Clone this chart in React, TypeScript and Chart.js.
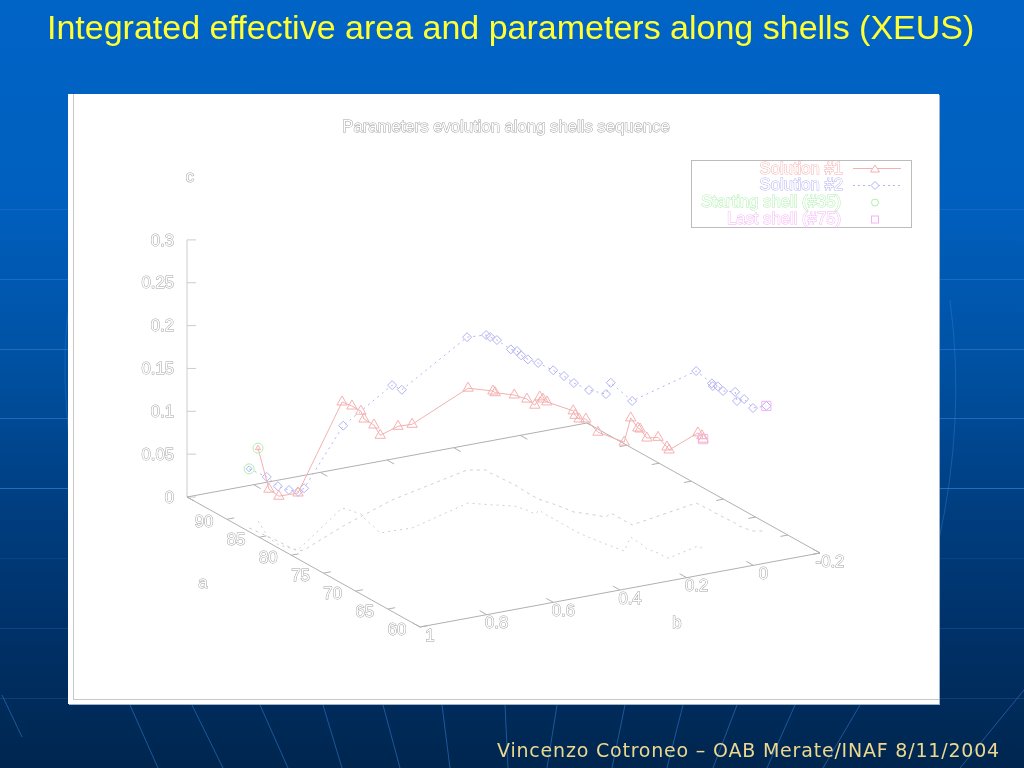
import React, { useEffect, useRef } from 'react';
import Chart from 'chart.js/auto';

// shell sequence: a, b, c for each solution
const sol1A = [88.43, 84.45, 82.6, 80.82, 87.9, 86.89, 85.91, 84.96, 82.69, 81.2, 81.13, 81.01, 84.07, 82.69, 82.61, 81.66, 80.32, 79.18, 79.82, 79.08, 78.51, 74.36, 74.07, 73.51, 72.61, 71.09, 68.0, 70.66, 69.34, 69.05, 67.53, 66.26, 64.87, 64.8, 66.18, 65.61, 65.57];
const sol1B = [0.937, 0.981, 0.987, 0.964, 0.695, 0.685, 0.677, 0.686, 0.7, 0.71, 0.658, 0.618, 0.391, 0.343, 0.338, 0.299, 0.287, 0.285, 0.258, 0.263, 0.262, 0.263, 0.263, 0.262, 0.259, 0.252, 0.233, 0.162, 0.166, 0.165, 0.174, 0.165, 0.165, 0.16, 0.047, 0.046, 0.043];
const sol1C = [0.085, 0.057, 0.057, 0.0665, 0.1237, 0.1225, 0.12, 0.1155, 0.119, 0.114, 0.121, 0.121, 0.134, 0.133, 0.131, 0.1295, 0.1295, 0.127, 0.132, 0.133, 0.132, 0.139, 0.135, 0.133, 0.1365, 0.127, 0.127, 0.139, 0.133, 0.133, 0.1295, 0.135, 0.1295, 0.126, 0.132, 0.131, 0.127];

const sol2A = [87.32, 84.95, 83.47, 81.8, 80.61, 80.59, 84.1, 87.64, 88.09, 91.01, 90.28, 89.49, 88.59, 86.59, 85.73, 84.95, 83.84, 82.2, 80.57, 79.31, 78.09, 77.09, 75.8, 76.45, 73.13, 75.25, 72.96, 72.71, 72.1, 71.28, 69.56, 69.06, 68.16, 67.19, 66.68];
const sol2B = [0.985, 0.978, 0.973, 0.972, 0.968, 0.95, 0.765, 0.55, 0.512, 0.26, 0.217, 0.22, 0.217, 0.214, 0.212, 0.215, 0.216, 0.217, 0.203, 0.195, 0.189, 0.163, 0.137, 0.11, 0.11, -0.123, -0.126, -0.124, -0.127, -0.127, -0.13, -0.126, -0.13, -0.138, -0.168];
const sol2C = [0.069, 0.069, 0.064, 0.0665, 0.069, 0.072, 0.117, 0.134, 0.124, 0.155, 0.1575, 0.1587, 0.1587, 0.156, 0.1575, 0.156, 0.156, 0.1587, 0.156, 0.154, 0.1505, 0.1447, 0.1435, 0.152, 0.1447, 0.154, 0.149, 0.147, 0.149, 0.147, 0.153, 0.1447, 0.1505, 0.1435, 0.146];

const aTicks = [90, 85, 80, 75, 70, 65, 60];
const bTicks = [1, 0.8, 0.6, 0.4, 0.2, 0, -0.2];
const cTicks = [0, 0.05, 0.1, 0.15, 0.2, 0.25, 0.3];
const A_MIN = 60;
const A_MAX = 96.2;
const B_MIN = -0.2;
const B_MAX = 1;

const legendLabels = ['Solution #1', 'Solution #2', 'Starting shell (#35)', 'Last shell (#75)'];
const RED = '#f5b0b0';
const BLUE = '#b2b2f4';
const GREEN = '#aeeeae';
const MAGENTA = '#f4b2f4';
const AXIS = '#b0b0b0';
const LABEL = '#a2a2a2';

// gnuplot style view: page pixels for a point of the a/b/c box
const project = (a: number, b: number, c: number) => {
  const u = (a - A_MIN) / (A_MAX - A_MIN);
  const v = (B_MAX - b) / (B_MAX - B_MIN);
  return { x: 420 - 233 * u + 400 * v, y: 627 - 130 * u - 74 * v - 857 * c };
};

const curve = (a: number[], b: number[], c: number[] | null) =>
  a.map((v, i) => project(v, b[i], c ? c[i] : 0));

const gap = { x: NaN, y: NaN };

const boxPoints = () => {
  const pts: { x: number; y: number }[] = [
    project(A_MAX, B_MAX, 0),
    project(A_MIN, B_MAX, 0),
    project(A_MIN, B_MIN, 0),
    project(A_MAX, B_MIN, 0),
    project(A_MAX, B_MAX, 0),
    gap,
  ];
  const bLen = 0.022;
  const aLen = 1.1;
  aTicks.forEach((a) => {
    pts.push(project(a, B_MAX, 0), project(a, B_MAX - bLen, 0), gap);
    pts.push(project(a, B_MIN, 0), project(a, B_MIN + bLen, 0), gap);
  });
  bTicks.forEach((b) => {
    pts.push(project(A_MIN, b, 0), project(A_MIN + aLen, b, 0), gap);
    pts.push(project(A_MAX, b, 0), project(A_MAX - aLen, b, 0), gap);
  });
  return pts;
};

const zAxisPoints = () => {
  const base = project(A_MAX, B_MAX, 0);
  const pts: { x: number; y: number }[] = [base, project(A_MAX, B_MAX, 0.3), gap];
  cTicks.forEach((c) => {
    const p = project(A_MAX, B_MAX, c);
    pts.push(p, { x: p.x + 9, y: p.y }, gap);
  });
  return pts;
};

const hollowText = (ctx: CanvasRenderingContext2D, text: string, x: number, y: number, color: string) => {
  ctx.lineWidth = 1;
  ctx.strokeStyle = color;
  ctx.fillStyle = '#ffffff';
  ctx.strokeText(text, x, y + 1);
  ctx.fillText(text, x, y + 1);
};

const plotText = {
  id: 'plotText',
  afterDatasetsDraw(chart: Chart) {
    const ctx = chart.ctx;
    ctx.save();
    ctx.font = '16.7px "Liberation Sans"';
    ctx.textBaseline = 'middle';
    ctx.textAlign = 'center';
    hollowText(ctx, 'Parameters evolution along shells sequence', 506, 126, LABEL);
    hollowText(ctx, 'c', 190, 176, LABEL);
    hollowText(ctx, 'a', 203, 582, LABEL);
    hollowText(ctx, 'b', 677, 622, LABEL);
    aTicks.forEach((a) => {
      const p = project(a, B_MAX, 0);
      hollowText(ctx, String(a), p.x - 23, p.y + 2, LABEL);
    });
    bTicks.forEach((b) => {
      const p = project(A_MIN, b, 0);
      hollowText(ctx, String(b), p.x + 10, p.y + 8, LABEL);
    });
    ctx.textAlign = 'right';
    cTicks.forEach((c) => {
      const p = project(A_MAX, B_MAX, c);
      hollowText(ctx, String(c), p.x - 13, p.y, LABEL);
    });

    // key box
    ctx.lineWidth = 1;
    ctx.strokeStyle = '#bcbcbc';
    ctx.strokeRect(691.5, 160.5, 220, 67);
    const colors = [RED, BLUE, GREEN, MAGENTA];
    legendLabels.forEach((label, i) => {
      hollowText(ctx, label, i < 2 ? 843 : 841, 168 + i * 16.8, colors[i]);
    });
    const cx = 875;
    ctx.lineWidth = 1;
    ctx.strokeStyle = RED;
    ctx.beginPath();
    ctx.moveTo(853, 168.5);
    ctx.lineTo(901, 168.5);
    ctx.stroke();
    ctx.beginPath();
    ctx.moveTo(cx - 4.5, 172);
    ctx.lineTo(cx + 4.5, 172);
    ctx.lineTo(cx, 165);
    ctx.closePath();
    ctx.fillStyle = '#fff';
    ctx.fill();
    ctx.stroke();
    ctx.strokeStyle = BLUE;
    ctx.setLineDash([2, 3]);
    ctx.beginPath();
    ctx.moveTo(853, 185.5);
    ctx.lineTo(901, 185.5);
    ctx.stroke();
    ctx.setLineDash([]);
    ctx.beginPath();
    ctx.moveTo(cx - 4, 185.5);
    ctx.lineTo(cx, 181.5);
    ctx.lineTo(cx + 4, 185.5);
    ctx.lineTo(cx, 189.5);
    ctx.closePath();
    ctx.fill();
    ctx.stroke();
    ctx.strokeStyle = GREEN;
    ctx.beginPath();
    ctx.arc(cx, 202.5, 3.5, 0, Math.PI * 2);
    ctx.stroke();
    ctx.strokeStyle = MAGENTA;
    ctx.strokeRect(cx - 3.5, 216, 7, 7);
    ctx.restore();
  },
};

const bgLines = [209, 279, 349, 418, 488, 558, 628, 698];
const bgAlpha = [0.25, 0.4, 0.45, 0.5, 0.6, 0.15, 0.2, 0.2];
const streaks = [
  [130, 705, 158, 768], [192, 705, 223, 768], [260, 705, 288, 768], [323, 705, 342, 768], [383, 705, 400, 768], [442, 705, 450, 768],
  [505, 705, 508, 768], [557, 705, 547, 768], [625, 705, 612, 768], [683, 705, 667, 768], [737, 705, 713, 768], [795, 705, 767, 768], [860, 705, 823, 768],
  [2, 695, 22, 737], [1024, 690, 960, 768],
];

const App = () => {
  const chartRef = useRef<HTMLCanvasElement>(null);
  const chartInstance = useRef<Chart | null>(null);

  useEffect(() => {
    document.body.style.margin = '0';
    if (!chartRef.current) return;
    const n1 = sol1A.length - 1;
    const n2 = sol2A.length - 1;
    const line = { showLine: true, pointRadius: 0, borderWidth: 1, fill: false };
    chartInstance.current = new Chart(chartRef.current, {
      type: 'scatter',
      data: {
        datasets: [
          {
            label: 'Starting shell (#35)',
            data: [project(sol1A[0], sol1B[0], sol1C[0]), project(sol2A[0], sol2B[0], sol2C[0])],
            borderColor: GREEN,
            backgroundColor: '#ffffff00',
            pointStyle: 'circle',
            pointRadius: 5,
            pointBorderWidth: 1,
          },
          {
            label: 'Last shell (#75)',
            data: [project(sol1A[n1], sol1B[n1], sol1C[n1]), project(sol2A[n2], sol2B[n2], sol2C[n2])],
            borderColor: MAGENTA,
            backgroundColor: '#ffffff00',
            pointStyle: 'rect',
            pointRadius: 6.5,
            pointBorderWidth: 1,
          },
          {
            label: 'Solution #1',
            data: curve(sol1A, sol1B, sol1C),
            showLine: true,
            borderColor: RED,
            borderWidth: 1,
            backgroundColor: '#ffffff00',
            pointStyle: 'triangle',
            pointRadius: (ctx: any) => (ctx.dataIndex === 0 ? 3 : 6),
            pointBorderWidth: 1,
          },
          {
            label: 'Solution #2',
            data: curve(sol2A, sol2B, sol2C),
            showLine: true,
            borderColor: BLUE,
            borderWidth: 1,
            borderDash: [2, 4],
            backgroundColor: '#ffffff00',
            pointStyle: 'rectRot',
            pointRadius: (ctx: any) => (ctx.dataIndex === 0 ? 3 : 4.5),
            pointBorderWidth: 1,
          },
          { label: 'floor 1', data: curve(sol1A, sol1B, null), borderColor: '#cfcfcf', borderDash: [2, 4], ...line },
          { label: 'floor 2', data: curve(sol2A, sol2B, null), borderColor: '#cfcfcf', borderDash: [3, 4], ...line },
          { label: 'box', data: boxPoints(), borderColor: AXIS, spanGaps: false, ...line },
          { label: 'z axis', data: zAxisPoints(), borderColor: '#cccccc', spanGaps: false, ...line },
        ],
      },
      options: {
        animation: false,
        responsive: false,
        devicePixelRatio: 1,
        layout: { padding: 0, autoPadding: false },
        plugins: { legend: { display: false }, tooltip: { enabled: false }, title: { display: false } },
        scales: {
          x: { type: 'linear', min: 0, max: 1024, display: false },
          y: { type: 'linear', min: 0, max: 768, reverse: true, display: false },
        },
      },
      plugins: [plotText],
    });
    return () => {
      if (chartInstance.current) chartInstance.current.destroy();
    };
  }, []);

  return (
    <div
      style={{
        position: 'relative',
        width: 1024,
        height: 768,
        overflow: 'hidden',
        background: 'linear-gradient(180deg, #0063c6 0%, #0060bf 25%, #0053a6 45%, #003f82 65%, #002f64 85%, #00264f 100%)',
      }}
    >
      <svg width={1024} height={768} style={{ position: 'absolute', left: 0, top: 0 }}>
        {bgLines.map((y, i) => (
          <line key={y} x1={0} x2={1024} y1={y + 0.5} y2={y + 0.5} stroke="#3f8ae0" strokeOpacity={bgAlpha[i]} />
        ))}
        {streaks.map((s, i) => (
          <line key={i} x1={s[0]} y1={s[1]} x2={s[2]} y2={s[3]} stroke="#2f78c8" strokeOpacity={0.6} />
        ))}
        <path d="M75 278 Q52 360 81 519" fill="none" stroke="#3f8ae0" strokeOpacity={0.3} />
        <path d="M950 300 Q966 420 938 544" fill="none" stroke="#3f8ae0" strokeOpacity={0.35} />
      </svg>
      <div style={{ position: 'absolute', left: 68, top: 94, width: 871, height: 610, background: '#fff', boxShadow: '1px 1px 0 #9fb4cc' }} />
      <div style={{ position: 'absolute', left: 73, top: 94, width: 1, height: 605, background: '#c8c8c8' }} />
      <div style={{ position: 'absolute', left: 73, top: 699, width: 866, height: 1, background: '#c8c8c8' }} />
      <canvas ref={chartRef} width={1024} height={768} style={{ position: 'absolute', left: 0, top: 0 }} />
      <div
        style={{
          position: 'absolute',
          left: 47,
          top: 8,
          font: '34px "Liberation Sans"',
          color: '#ffff33',
          whiteSpace: 'nowrap',
        }}
      >
        Integrated effective area and parameters along shells (XEUS)
      </div>
      <div
        style={{
          position: 'absolute',
          left: 497,
          top: 739,
          font: '19px "DejaVu Sans"',
          letterSpacing: 0.8,
          color: '#ecd88e',
          whiteSpace: 'nowrap',
        }}
      >
        Vincenzo Cotroneo – OAB Merate/INAF 8/11/2004
      </div>
    </div>
  );
};

export default App;
